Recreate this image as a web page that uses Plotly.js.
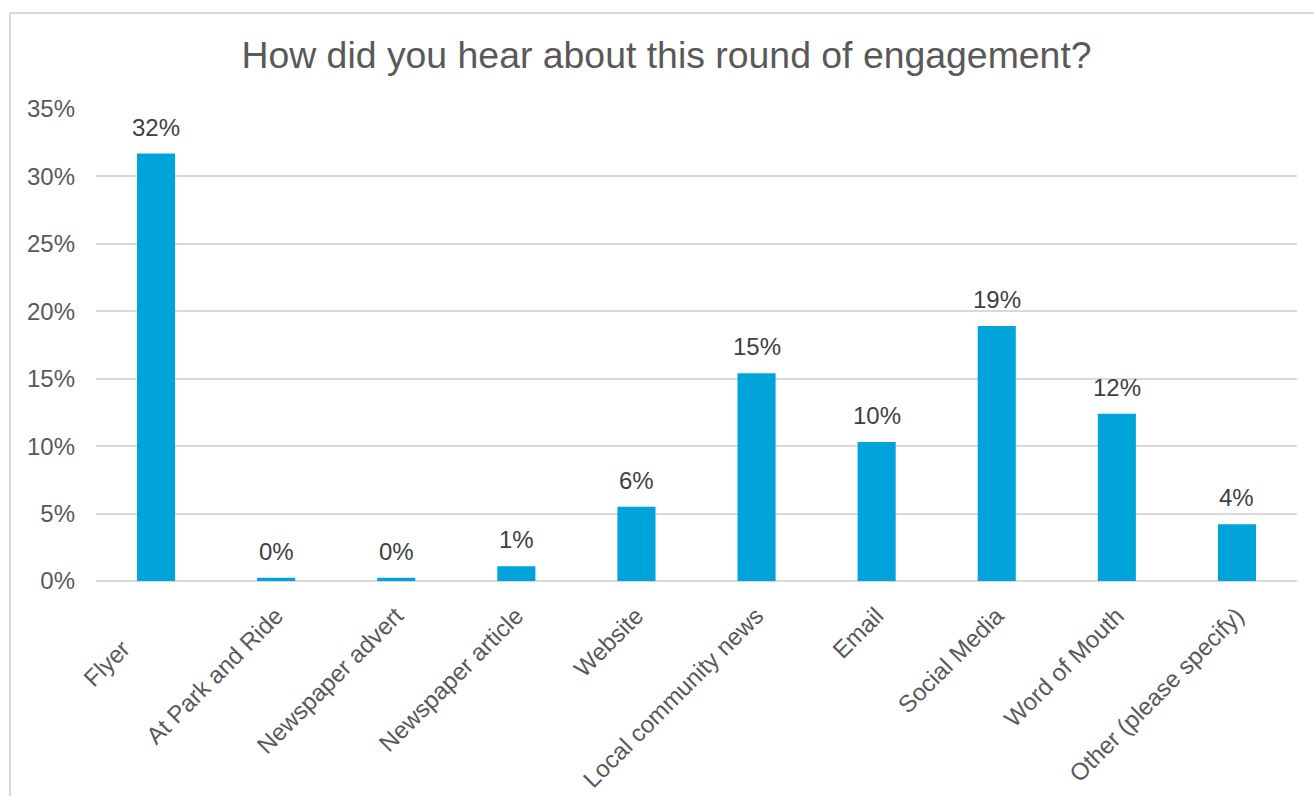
<!DOCTYPE html>
<html>
<head>
<meta charset="utf-8">
<script src="https://cdn.plot.ly/plotly-3.0.1.min.js"></script>
<style>
html,body{margin:0;padding:0;background:#fff;overflow:hidden;}
#wrap{position:relative;width:1314px;height:796px;}
#frame{position:absolute;left:9px;top:12px;width:1400px;height:900px;border-left:2px solid #D9D9D9;border-top:2px solid #D9D9D9;pointer-events:none;z-index:5;}
#chart{position:absolute;left:0;top:0;width:1314px;height:796px;}
</style>
</head>
<body>
<div id="wrap"><div id="chart"></div><div id="frame"></div></div>
<script>
const categories = ["Flyer","At Park and Ride","Newspaper advert","Newspaper article","Website","Local community news","Email","Social Media","Word of Mouth","Other (please specify)"];
const values = [0.317, 0.0025, 0.0025, 0.011, 0.055, 0.154, 0.103, 0.189, 0.124, 0.042];
const yTickVals = [0,0.05,0.10,0.15,0.20,0.25,0.30,0.35];
const yTickText = ["0%","5%","10%","15%","20%","25%","30%","35%"];
const titleText = "How did you hear about this round of engagement?";

const fontFam = "'Liberation Sans', Arial, sans-serif";
const NBSP = '\u00A0';
// the first label sits further down-left in the original layout
const xTickText = categories.map((c, i) => i === 0 ? c + NBSP.repeat(7) : c);

const trace = {
  type: 'bar',
  x: categories,
  y: values,
  marker: {color: '#00A3DA'},
  hoverinfo: 'none'
};

const annotations = categories.map((c, i) => ({
  x: c, y: values[i], xref: 'x', yref: 'y',
  text: Math.round(values[i]*100) + '%',
  showarrow: false, yanchor: 'bottom', yshift: 11,
  font: {family: fontFam, size: 24, color: '#404040'}
}));

const layout = {
  width: 1314, height: 796,
  margin: {l: 96, r: 17, t: 108.5, b: 215.3},
  paper_bgcolor: '#fff', plot_bgcolor: '#fff',
  showlegend: false,
  bargap: 0.683,
  title: {
    text: titleText,
    font: {family: fontFam, size: 37.4, color: '#595959'},
    x: 666.5/1314, xanchor: 'center', xref: 'container',
    y: 1 - 55/796, yanchor: 'middle', yref: 'container'
  },
  xaxis: {
    type: 'category',
    tickmode: 'array', tickvals: categories, ticktext: xTickText,
    tickangle: -45,
    tickfont: {family: fontFam, size: 24, color: '#595959'},
    showgrid: false, zeroline: false,
    showline: false,
    ticks: '',
    ticklabelstandoff: 15,
    fixedrange: true
  },
  yaxis: {
    range: [0, 0.35],
    tickvals: yTickVals, ticktext: yTickText,
    tickfont: {family: fontFam, size: 24, color: '#595959'},
    showgrid: true, gridcolor: '#D9D9D9', gridwidth: 2,
    zeroline: true, zerolinecolor: '#D9D9D9', zerolinewidth: 2,
    showline: false, ticks: '',
    ticklabelstandoff: 20,
    fixedrange: true
  },
  annotations: annotations
};

Plotly.newPlot('chart', [trace], layout, {displayModeBar: false, staticPlot: true});
</script>
</body>
</html>
